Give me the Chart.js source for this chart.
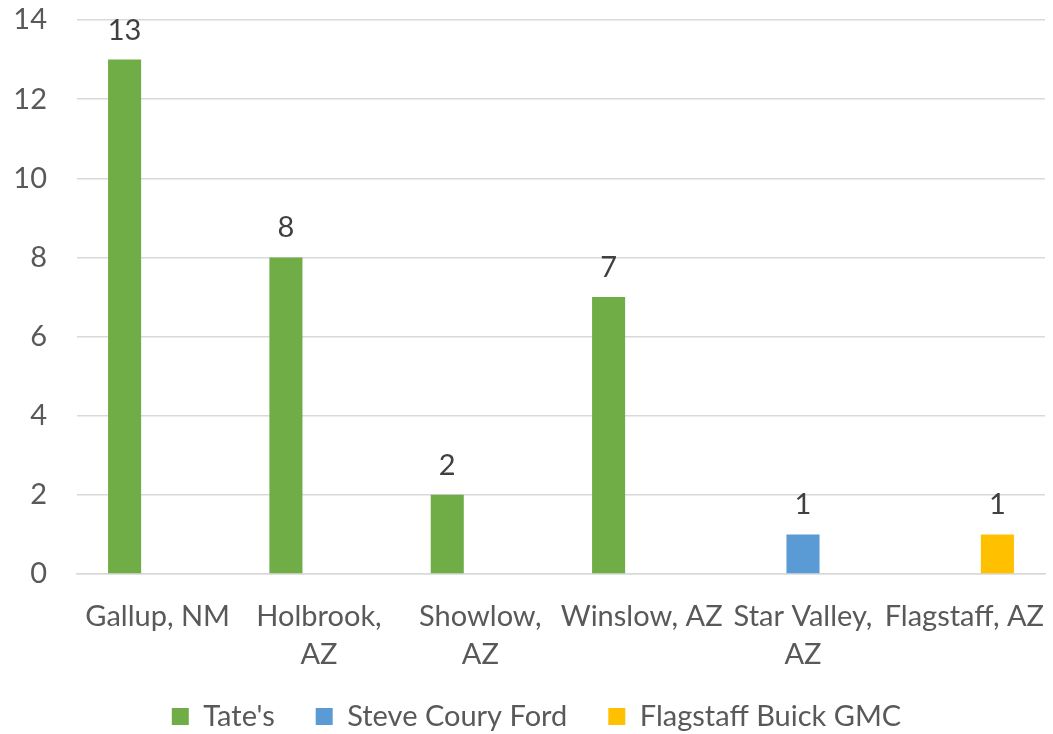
<!DOCTYPE html>
<html>
<head>
<meta charset="utf-8">
<script src="https://cdn.jsdelivr.net/npm/chart.js@4.4.1/dist/chart.umd.min.js"></script>
<style>
  html, body { margin: 0; padding: 0; background: #fff; }
  #wrap { width: 1053px; height: 734px; }
</style>
</head>
<body>
<div id="wrap"><canvas id="chart"></canvas></div>
<script>
// chart data
const categories = [
  ['Gallup, NM'],
  ['Holbrook,', 'AZ'],
  ['Showlow,', 'AZ'],
  ['Winslow, AZ'],
  ['Star Valley,', 'AZ'],
  ['Flagstaff, AZ']
];
const seriesNames = ["Tate's", 'Steve Coury Ford', 'Flagstaff Buick GMC'];
const tatesValues = [13, 8, 2, 7, null, null];
const steveCouryValues = [null, null, null, null, 1, null];
const flagstaffBuickValues = [null, null, null, null, null, 1];
const yTicks = [0, 2, 4, 6, 8, 10, 12, 14];

const FONT = 'Lato, "Open Sans", sans-serif';
const SIZE = 29;

// value labels above the bars
const barValues = {
  id: 'barValues',
  afterDatasetsDraw(chart) {
    const ctx = chart.ctx;
    ctx.save();
    ctx.font = SIZE + 'px ' + FONT;
    ctx.fillStyle = '#404040';
    ctx.textAlign = 'center';
    ctx.textBaseline = 'alphabetic';
    chart.data.datasets.forEach((ds, i) => {
      const meta = chart.getDatasetMeta(i);
      meta.data.forEach((bar, j) => {
        const v = ds.data[j];
        if (v === null || v === undefined) return;
        ctx.fillText(v, bar.x, bar.y - 20);
      });
    });
    ctx.restore();
  }
};

// nudge the legend up/right so the wide item spacing still fits like the original
const legendShift = {
  id: 'legendShift',
  afterLayout(chart) {
    const lg = chart.legend;
    if (!lg) return;
    lg.top -= 13;
    lg.bottom -= 13;
    lg.left += 14;
    lg.right += 14;
  }
};

const ctx = document.getElementById('chart');

new Chart(ctx, {
  type: 'bar',
  data: {
    labels: categories,
    datasets: [
      { label: seriesNames[0], data: tatesValues, backgroundColor: '#70ad47' },
      { label: seriesNames[1], data: steveCouryValues, backgroundColor: '#5b9bd5' },
      { label: seriesNames[2], data: flagstaffBuickValues, backgroundColor: '#ffc000' }
    ]
  },
  plugins: [barValues, legendShift],
  options: {
    responsive: true,
    maintainAspectRatio: false,
    animation: false,
    datasets: {
      bar: { categoryPercentage: 0.615, barPercentage: 1, skipNull: false }
    },
    layout: { padding: { top: 20, right: 8, left: 0, bottom: -20 } },
    plugins: {
      tooltip: { enabled: false },
      legend: {
        position: 'bottom',
        labels: {
          font: { family: FONT, size: SIZE },
          color: '#595959',
          boxWidth: 17,
          boxHeight: 17,
          padding: 41
        }
      }
    },
    scales: {
      x: {
        afterFit(scale) {
          scale.height = 100;
          scale.paddingLeft = 0;
          scale.paddingRight = 0;
        },
        grid: { display: false },
        border: { color: '#d9d9d9', width: 1.5 },
        ticks: {
          font: { family: FONT, size: SIZE, lineHeight: 1.3 },
          color: '#595959',
          padding: 16,
          maxRotation: 0,
          autoSkip: false
        }
      },
      y: {
        min: 0,
        max: 14,
        afterBuildTicks(scale) {
          scale.ticks = yTicks.map(v => ({ value: v }));
        },
        afterFit(scale) {
          scale.width = 77;
          scale.paddingTop = 0;
          scale.paddingBottom = 0;
        },
        grid: { color: '#d9d9d9', lineWidth: 1.5, drawTicks: false },
        border: { display: false },
        ticks: {
          font: { family: FONT, size: SIZE },
          color: '#595959',
          padding: 30
        }
      }
    }
  }
});
</script>
</body>
</html>
